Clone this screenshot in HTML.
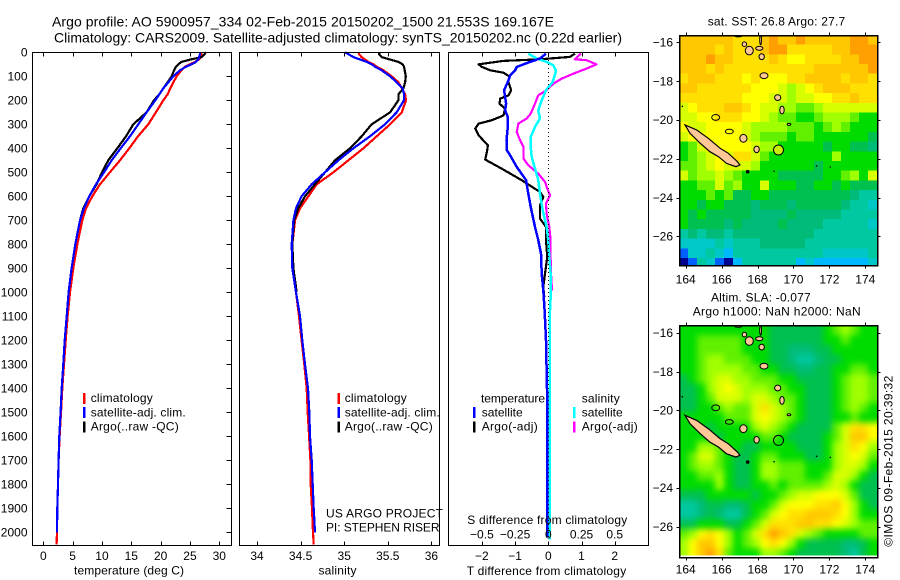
<!DOCTYPE html>
<html lang="en">
<head>
<meta charset="utf-8">
<title>Argo profile 5900957_334</title>
<style>
html,body{margin:0;padding:0;background:#fff;width:900px;height:580px;overflow:hidden}
svg{display:block;font-family:"Liberation Sans",sans-serif;font-size:12px;fill:#000}
</style>
</head>
<body>
<svg id="chart" xmlns="http://www.w3.org/2000/svg" width="900" height="580" viewBox="0 0 900 580">
<defs>
<clipPath id="clip-map-sst"><rect x="679.5" y="35.5" width="198" height="229.5"/></clipPath>
<clipPath id="clip-map-sla"><rect x="679.5" y="325.5" width="198" height="230"/></clipPath>
<filter id="smooth-sla" x="-5%" y="-5%" width="110%" height="110%" color-interpolation-filters="sRGB">
<feGaussianBlur stdDeviation="3.2"/>
<feComponentTransfer><feFuncA type="linear" slope="60"/></feComponentTransfer>
</filter>
</defs>
<text x="52" y="26.5" font-size="14" textLength="502">Argo profile: AO 5900957_334 02-Feb-2015 20150202_1500 21.553S 169.167E</text>
<text x="54" y="42.5" font-size="14" textLength="568">Climatology: CARS2009. Satellite-adjusted climatology: synTS_20150202.nc (0.22d earlier)</text>

<g id="layer-maps"></g>
<g id="layer-curves"></g>
<g id="layer-axes"></g>

<text x="74" y="574.5" textLength="110">temperature (deg C)</text>
<text x="318.5" y="574.5" textLength="38">salinity</text>
<text x="466.7" y="575" textLength="159.5">T difference from climatology</text>
<text x="467.3" y="524" textLength="160">S difference from climatology</text>

<g>
<rect x="83" y="393" width="2.5" height="11" fill="#f00"/>
<text x="90.7" y="402" textLength="62">climatology</text>
<rect x="83" y="407" width="2.5" height="11" fill="#00f"/>
<text x="90.7" y="416.3" textLength="95">satellite-adj. clim.</text>
<rect x="83" y="421.5" width="2.5" height="11" fill="#000"/>
<text x="90.7" y="430.7" textLength="88">Argo(..raw -QC)</text>
</g>
<g>
<rect x="337.5" y="393" width="2.5" height="11" fill="#f00"/>
<text x="344.7" y="402" textLength="62">climatology</text>
<rect x="337.5" y="407" width="2.5" height="11" fill="#00f"/>
<text x="344.7" y="416.3" textLength="95">satellite-adj. clim.</text>
<rect x="337.5" y="421.5" width="2.5" height="11" fill="#000"/>
<text x="344.7" y="430.7" textLength="88">Argo(..raw -QC)</text>
</g>
<text x="326" y="517.3" textLength="117">US ARGO PROJECT</text>
<text x="326" y="531.3" textLength="113.5">PI: STEPHEN RISER</text>

<g>
<text x="481" y="402.3" textLength="64">temperature</text>
<rect x="473" y="407" width="2.5" height="11" fill="#00f"/>
<text x="481.7" y="416.3" textLength="41">satellite</text>
<rect x="473" y="421.5" width="2.5" height="11" fill="#000"/>
<text x="481.7" y="430.7" textLength="56">Argo(-adj)</text>
<text x="581.7" y="402.3" textLength="38">salinity</text>
<rect x="573" y="407" width="2.5" height="11" fill="#0ff"/>
<text x="581.7" y="416.3" textLength="41">satellite</text>
<rect x="573" y="421.5" width="2.5" height="11" fill="#f0f"/>
<text x="581.7" y="430.7" textLength="56">Argo(-adj)</text>
</g>

<text x="707.7" y="25.7" textLength="137.5">sat. SST: 26.8 Argo: 27.7</text>
<text x="711" y="301.7" textLength="99.7">Altim. SLA: -0.077</text>
<text x="692.7" y="315.7" textLength="168">Argo h1000: NaN h2000: NaN</text>
<text transform="translate(892.7,546.7) rotate(-90)" textLength="171">©IMOS 09-Feb-2015 20:39:32</text>
</svg>

<script>
const profileDepths = [0,10,20,30,40,50,60,75,100,125,150,175,200,250,300,350,400,450,500,550,600,650,700,800,900,1000,1100,1200,1300,1400,1500,1600,1700,1800,1900,2000,2050];
const tempClimatology = [26.99,26.93,26.82,26.53,25.85,25.0,24.2,23.52,22.73,22.16,21.65,21.19,20.45,19.2,17.9,16.14,14.66,13.07,11.36,9.66,8.35,7.27,6.65,5.8,5.11,4.55,4.15,3.81,3.52,3.24,3.01,2.78,2.61,2.5,2.39,2.33,2.27];
const tempSatellite = [26.7,26.7,26.53,26.42,26.02,25.28,24.32,23.3,22.16,21.31,20.45,19.77,19.09,17.61,16.19,14.77,13.18,11.65,10.34,8.98,7.84,6.93,6.25,5.45,4.83,4.32,3.98,3.64,3.41,3.13,2.95,2.73,2.61,2.5,2.39,2.33];
const tempArgo = [27.73,27.39,26.99,25.11,23.58,23.01,22.61,22.27,21.88,21.19,20.45,19.77,18.86,17.61,15.34,14.09,12.61,11.08,10.0,9.09,7.84,6.82,6.25,5.45,4.83,4.32];
const salClimatology = [35.163,35.174,35.2,35.239,35.277,35.335,35.373,35.449,35.545,35.621,35.66,35.698,35.709,35.66,35.526,35.373,35.22,35.048,34.876,34.685,34.589,34.493,34.436,34.405,34.405,34.447,34.482,34.512,34.543,34.57,34.581,34.597,34.612,34.616,34.631,34.642,34.65];
const salSatellite = [35.01,35.059,35.105,35.182,35.258,35.315,35.354,35.43,35.526,35.602,35.671,35.686,35.686,35.602,35.468,35.296,35.105,34.933,34.78,34.627,34.512,34.447,34.417,34.398,34.405,34.447,34.493,34.52,34.551,34.585,34.6,34.608,34.627,34.639,34.65,34.665];
const salArgo = [35.403,35.403,35.43,35.526,35.621,35.671,35.686,35.694,35.706,35.698,35.679,35.621,35.621,35.526,35.315,35.201,35.067,34.895,34.78,34.665,34.551,34.474,34.424,34.405,34.417,34.455];

const tDiffSatDepths = [6,26,40,61,75,96,117,158,186,214,242,269,311,367,408,429,478,533,575,644,728,783,839,922,992,1075,1200,1400,1700,2020];
const tDiffSat = [-0.07,-0.25,-0.55,-0.95,-1.0,-1.15,-1.2,-1.33,-1.3,-1.27,-1.3,-1.22,-1.22,-1.26,-1.25,-1.15,-0.95,-0.67,-0.62,-0.53,-0.4,-0.3,-0.22,-0.2,-0.15,-0.11,-0.07,-0.04,-0.03,-0.03];
const tDiffArgoDepths = [6,19,29,36,50,61,75,85,100,124,158,179,193,214,235,263,283,297,318,346,388,415,447,485,533,582,603,638,693,728,783,853,922,978,1019];
const tDiffArgo = [0.8,0.65,-0.25,-1.35,-2.1,-2.0,-1.75,-1.35,-1.18,-1.2,-1.12,-1.2,-1.45,-1.47,-1.3,-1.35,-1.7,-2.1,-2.2,-2.1,-1.82,-1.85,-1.9,-1.4,-0.8,-0.25,-0.15,-0.25,-0.25,-0.07,-0.07,-0.03,-0.1,-0.15,-0.12];
const sDiffSatDepths = [6,26,40,54,75,96,124,158,200,242,276,311,353,394,436,485,533,589,658,728,783,853,922,992,1075,1400,2030];
const sDiffSat = [-0.15,-0.0875,-0.0125,0.0375,0.0575,0.05,0.0325,-0.0175,-0.05,-0.075,-0.0625,-0.1,-0.1325,-0.1325,-0.125,-0.1,-0.075,-0.0625,-0.0425,-0.0125,0,0.0075,0.0175,0.02,0.0125,0.01,0.0125];
const sDiffArgoDepths = [6,29,33,50,68,89,110,131,158,179,214,256,276,297,332,367,394,443,471,506,540,568,596,631,672,728,783,853,922,992];
const sDiffArgo = [0.245,0.2,0.2875,0.3625,0.2875,0.1875,0.1,0.0375,-0.0125,-0.075,-0.1,-0.1325,-0.1625,-0.225,-0.2375,-0.2125,-0.1875,-0.1875,-0.15,-0.075,-0.025,-0.0075,0.0125,-0.0175,-0.0125,0.0075,0.0175,0.0175,0.02,0.0275];

const depthTicks = [0,100,200,300,400,500,600,700,800,900,1000,1100,1200,1300,1400,1500,1600,1700,1800,1900,2000];
const tempTicks = [0,5,10,15,20,25,30];
const salTicks = [34,34.5,35,35.5,36];
const tDiffTicks = [-2,-1,0,1,2];
const sDiffTicks = [-0.5,-0.25,0,0.25,0.5];
const lonTicks = [164,166,168,170,172,174];
const latTicks = [-16,-18,-20,-22,-24,-26];

const sstLevels = [
[13,13,13,13,13,13,12,12,12,13,14,13,13,14,13,13,13,13,13,14,14,13],
[13,13,13,13,12,13,12,12,12,13,14,14,12,12,12,12,12,13,13,14,14,14],
[13,13,13,14,13,13,12,12,12,12,13,12,11,11,12,12,12,12,13,13,14,14],
[13,13,13,12,13,12,12,12,12,12,12,12,12,12,12,13,13,13,13,13,13,14],
[12,13,13,13,12,12,12,11,12,11,11,11,12,12,13,13,13,13,12,13,13,12],
[13,13,12,12,12,12,12,12,11,11,11,10,9,10,11,12,13,13,13,12,12,12],
[12,12,12,12,12,12,12,11,11,11,10,10,9,10,10,11,11,12,12,13,12,12],
[10,11,12,12,12,13,13,12,11,10,10,9,9,8,8,9,10,10,10,10,10,10],
[10,10,11,11,12,12,12,11,11,10,9,8,8,7,7,8,9,9,9,8,7,7],
[11,10,10,11,11,11,11,10,9,9,9,9,8,8,8,7,8,9,8,7,7,7],
[10,11,11,11,11,11,11,10,9,8,8,8,7,8,8,7,7,7,7,7,7,6],
[7,8,10,11,11,11,11,11,10,9,9,7,7,7,7,7,6,7,7,6,6,5],
[7,8,9,10,11,10,12,12,10,8,7,7,7,7,7,7,7,9,7,7,7,7],
[8,8,9,10,11,10,10,10,9,7,7,7,7,7,7,6,7,7,7,7,7,7],
[10,8,9,9,10,9,8,7,7,7,7,6,6,6,6,6,7,7,8,9,7,10],
[7,7,8,8,10,8,9,7,7,10,7,7,7,6,6,7,7,6,7,6,6,6],
[7,7,7,8,7,8,6,6,7,7,6,6,6,6,6,6,6,6,6,5,4,4],
[7,7,6,7,7,6,6,6,5,6,6,6,5,6,6,6,6,6,5,4,4,3],
[7,6,7,6,6,6,6,6,5,5,5,5,6,5,5,5,5,5,4,4,4,4],
[7,6,6,6,6,5,6,5,5,5,5,6,5,5,5,5,4,4,4,4,4,3],
[4,5,4,5,5,4,5,5,5,5,5,5,5,5,5,4,4,4,4,4,4,4],
[3,3,3,3,4,3,4,4,4,5,5,5,5,5,4,4,4,4,4,4,4,4],
[1,3,3,4,3,2,4,4,4,4,4,4,4,4,4,4,3,3,3,3,3,4],
[0,1,4,3,1,0,2,4,4,4,4,4,4,2,3,2,2,2,2,2,2,3]
];
const slaLevels = [
[7,7,7,7,7,7,7,7,7,7,6,6,6,6,6,6,7,8,9,8,7,7],
[7,7,8,8,8,8,8,7,7,7,6,6,6,6,6,6,7,7,8,7,7,7],
[7,7,8,8,8,8,8,7,7,7,6,6,5,5,5,6,6,7,7,7,7,7],
[7,7,8,9,9,8,8,8,7,7,6,6,5,4,4,5,6,6,7,7,7,7],
[7,7,8,9,9,9,9,8,8,7,7,6,6,5,5,6,6,7,7,8,8,7],
[6,7,8,9,10,10,9,9,8,8,8,7,7,6,6,6,6,7,8,9,9,8],
[6,6,7,9,10,11,10,9,9,9,8,8,7,7,6,6,6,7,8,9,9,8],
[6,6,7,8,10,10,10,9,10,10,9,8,8,7,6,6,6,7,8,9,9,8],
[6,6,7,7,8,9,8,8,10,12,10,9,8,7,6,6,6,7,8,9,8,7],
[7,7,7,7,7,8,8,8,10,11,10,9,8,7,6,6,6,7,7,8,7,7],
[7,7,7,6,7,7,7,7,9,10,9,8,7,6,6,6,6,8,10,12,12,11],
[7,7,7,7,6,7,7,7,7,8,8,7,6,6,6,6,7,8,10,13,13,11],
[7,7,9,9,8,7,7,6,6,7,7,7,7,6,6,6,7,9,10,12,11,9],
[7,8,10,10,8,7,6,6,7,8,8,7,7,7,6,6,7,9,10,11,10,8],
[7,8,9,9,8,7,6,6,7,9,9,8,8,8,7,7,7,9,10,10,9,7],
[7,7,8,8,9,7,6,6,7,9,9,8,8,8,7,7,8,10,10,9,7,6],
[7,7,7,7,9,7,6,6,7,7,8,7,8,8,8,8,9,10,9,7,6,6],
[6,6,6,7,7,7,7,7,6,7,7,8,9,10,10,11,11,11,10,8,6,6],
[4,4,5,6,6,5,5,6,7,7,8,10,11,11,11,12,12,13,11,9,7,6],
[4,4,5,6,5,4,4,6,7,8,10,11,12,12,13,13,13,12,11,9,7,7],
[6,6,7,7,7,6,6,7,8,10,12,12,12,13,13,12,12,11,10,9,8,8],
[8,9,11,12,11,9,7,8,10,12,14,13,12,10,9,8,7,7,7,7,8,8],
[9,11,13,13,11,9,7,8,9,11,12,11,9,7,6,6,6,6,5,5,6,7],
[9,11,13,14,12,8,7,7,7,9,9,8,7,6,6,6,6,6,5,4,6,7]
];
const levelColors = ["#000090","#0060ff","#00b8ff","#00c8c8","#00c8a0","#00bc78","#00c050","#00dc00","#60f000","#a0ff00","#d8ff00","#ffff00","#ffe000","#ffc800","#ffa000","#d84000"];

const newCaledoniaLon = [163.96,164.61,165.26,165.91,166.37,166.88,167.02,166.8,166.28,165.82,165.35,164.8,164.24];
const newCaledoniaLat = [-20.26,-20.52,-20.95,-21.46,-21.72,-22.15,-22.32,-22.41,-22.24,-21.89,-21.64,-21.2,-20.69];
const islandLon = [167.27,167.54,168.1,168.23,168.36,169.12,169.36,169.75,167.21,167.95,168.17,166.93];
const islandLat = [-16.1,-16.43,-16.31,-16.74,-17.72,-18.85,-19.49,-20.23,-20.95,-21.52,-15.88,-15.67];
const islandLonRadius = [0.12,0.22,0.2,0.15,0.22,0.17,0.12,0.1,0.2,0.15,0.05,0.2];
const islandLatRadius = [0.12,0.22,0.1,0.15,0.15,0.15,0.2,0.05,0.2,0.17,0.25,0.05];
const atollLon = [165.67,166.43];
const atollLat = [-19.87,-20.6];
const atollLonRadius = [0.22,0.22];
const atollLatRadius = [0.15,0.12];
const reefLon = [167.45,171.29,172.05,168.92,163.81];
const reefLat = [-22.67,-22.37,-22.43,-22.65,-19.3];
const reefRadius = [1.8,0.8,0.8,0.8,0.8];
const argoLon = 169.167;
const argoLat = -21.553;

const NS = "http://www.w3.org/2000/svg";
const layerMaps = document.getElementById("layer-maps");
const layerCurves = document.getElementById("layer-curves");
const layerAxes = document.getElementById("layer-axes");

function yDepth(d){ return 52.3 + d * 0.24; }
function xTemp(v){ return 43.3 + v * 5.867; }
function xSal(v){ return 257 + (v - 34) * 87.2; }
function xTDiff(v){ return 548.3 + v * 33.2; }
function xSDiff(v){ return 548.3 + v * 132.8; }
function xLon(l){ return 685.7 + (l - 164) * 17.96; }
function yLatSst(l){ return 42.3 + (-16 - l) * 19.4; }
function yLatSla(l){ return 332.7 + (-16 - l) * 19.4; }
function fmtMinus(v){ return String(v).replace("-", "\u2212"); }

function svgEl(tag, parent, name){
  const el = document.createElementNS(NS, tag);
  
  
  parent.appendChild(el);
  return el;
}
function line(parent, name, x1, y1, x2, y2){
  const l = svgEl("line", parent, name);
  l.setAttribute("x1", x1); l.setAttribute("y1", y1);
  l.setAttribute("x2", x2); l.setAttribute("y2", y2);
  l.setAttribute("stroke", "#000");
  l.setAttribute("stroke-width", "1");
  l.setAttribute("shape-rendering", "crispEdges");
  return l;
}
function label(parent, name, x, y, str, anchor){
  const t = svgEl("text", parent, name);
  t.setAttribute("x", x); t.setAttribute("y", y);
  t.setAttribute("text-anchor", anchor);
  t.textContent = str;
  return t;
}
function frame(parent, name, x, y, w, h, sw){
  const r = svgEl("rect", parent, name);
  r.setAttribute("x", x); r.setAttribute("y", y);
  r.setAttribute("width", w); r.setAttribute("height", h);
  r.setAttribute("fill", "none");
  r.setAttribute("stroke", "#000");
  r.setAttribute("stroke-width", sw);
  r.setAttribute("shape-rendering", "crispEdges");
  return r;
}
function curve(name, depths, values, xFn, color, width){
  const p = svgEl("polyline", layerCurves, name);
  p.setAttribute("points", values.map((v, i) => xFn(v).toFixed(1) + "," + yDepth(depths[i]).toFixed(1)).join(" "));
  p.setAttribute("fill", "none");
  p.setAttribute("stroke", color);
  p.setAttribute("stroke-width", width);
  p.setAttribute("stroke-linejoin", "round");
  p.setAttribute("shape-rendering", "crispEdges");
}

/* profile panels */
curve("temperature-climatology-line", profileDepths, tempClimatology, xTemp, "#f00", 2.2);
curve("temperature-argo-line", profileDepths, tempArgo, xTemp, "#000", 2.2);
curve("temperature-satellite-line", profileDepths, tempSatellite, xTemp, "#00f", 2.2);
curve("salinity-climatology-line", profileDepths, salClimatology, xSal, "#f00", 2.2);
curve("salinity-argo-line", profileDepths, salArgo, xSal, "#000", 2.2);
curve("salinity-satellite-line", profileDepths, salSatellite, xSal, "#00f", 2.2);
curve("t-difference-argo-line", tDiffArgoDepths, tDiffArgo, xTDiff, "#000", 2.2);
curve("s-difference-argo-line", sDiffArgoDepths, sDiffArgo, xSDiff, "#f0f", 2.2);
curve("s-difference-satellite-line", sDiffSatDepths, sDiffSat, xSDiff, "#0ff", 2.5);
curve("t-difference-satellite-line", tDiffSatDepths, tDiffSat, xTDiff, "#00f", 2.5);

const zero = svgEl("line", layerCurves, "zero-difference-line");
zero.setAttribute("x1", xTDiff(0)); zero.setAttribute("x2", xTDiff(0));
zero.setAttribute("y1", 52); zero.setAttribute("y2", 540);
zero.setAttribute("stroke", "#000");
zero.setAttribute("stroke-width", "1");
zero.setAttribute("stroke-dasharray", "1 3");
zero.setAttribute("shape-rendering", "crispEdges");

/* profile frames and axes */
frame(layerAxes, "temperature-plot-frame", 32.5, 52.5, 199, 493, 1);
frame(layerAxes, "salinity-plot-frame", 239.5, 52.5, 200, 493, 1);
frame(layerAxes, "difference-plot-frame", 448.5, 52.5, 200, 493, 1);

depthTicks.forEach(d => {
  const y = Math.round(yDepth(d)) + 0.5;
  line(layerAxes, "depth-tick", 226.5, y, 231.5, y);
  label(layerAxes, "depth-tick-label", 27.5, yDepth(d) + 4.3, String(d), "end");
});
function xAxis(ticks, xFn, prefix, labelY, top){
  ticks.forEach(v => {
    const x = Math.round(xFn(v)) + 0.5;
    line(layerAxes, prefix + "-tick-bottom", x, 541.5, x, 545.5);
    if (top) line(layerAxes, prefix + "-tick-top", x, 52.5, x, 56.5);
    if (labelY) label(layerAxes, prefix + "-tick-label", xFn(v), labelY, fmtMinus(v), "middle");
  });
}
xAxis(tempTicks, xTemp, "temperature", 560, true);
xAxis(salTicks, xSal, "salinity", 560, true);
xAxis(tDiffTicks, xTDiff, "t-difference", 560, true);
sDiffTicks.forEach(v => {
  label(layerAxes, "s-difference-tick-label", xSDiff(v), 538.3, fmtMinus(v), "middle");
});

/* maps */
function drawMap(prefix, levels, yLat, clipId, top, bottom, lonLabelY, circleFill, smooth){
  const g = svgEl("g", layerMaps, prefix + "-map");
  g.setAttribute("clip-path", "url(#" + clipId + ")");
  const cells = svgEl("g", g, prefix + "-cells");
  if (smooth) cells.setAttribute("filter", "url(#smooth-sla)");
  const lonStart = 163.64, latStart = -15.62, step = 0.5;
  levels.forEach((row, r) => {
    row.forEach((level, c) => {
      const cell = svgEl("rect", cells, prefix + "-cell");
      const x0 = xLon(lonStart + c * step), x1 = xLon(lonStart + (c + 1) * step);
      const y0 = yLat(latStart - r * step), y1 = yLat(latStart - (r + 1) * step);
      cell.setAttribute("x", x0.toFixed(1));
      cell.setAttribute("y", y0.toFixed(1));
      cell.setAttribute("width", (x1 - x0 + 0.6).toFixed(1));
      cell.setAttribute("height", (y1 - y0 + 0.6).toFixed(1));
      cell.setAttribute("fill", levelColors[level]);
      cell.setAttribute("shape-rendering", "crispEdges");
    });
  });
  const nc = svgEl("polygon", g, "new-caledonia-landmass");
  nc.setAttribute("points", newCaledoniaLon.map((l, i) => xLon(l).toFixed(1) + "," + yLat(newCaledoniaLat[i]).toFixed(1)).join(" "));
  nc.setAttribute("fill", "#ffc896");
  nc.setAttribute("stroke", "#000");
  nc.setAttribute("stroke-width", "1.2");
  islandLon.forEach((l, i) => {
    const e = svgEl("ellipse", g, "island");
    e.setAttribute("cx", xLon(l).toFixed(1));
    e.setAttribute("cy", yLat(islandLat[i]).toFixed(1));
    e.setAttribute("rx", (islandLonRadius[i] * 17.96).toFixed(1));
    e.setAttribute("ry", (islandLatRadius[i] * 19.4).toFixed(1));
    e.setAttribute("fill", "#ffc896");
    e.setAttribute("stroke", "#000");
    e.setAttribute("stroke-width", "1");
  });
  atollLon.forEach((l, i) => {
    const e = svgEl("ellipse", g, "atoll");
    e.setAttribute("cx", xLon(l).toFixed(1));
    e.setAttribute("cy", yLat(atollLat[i]).toFixed(1));
    e.setAttribute("rx", (atollLonRadius[i] * 17.96).toFixed(1));
    e.setAttribute("ry", (atollLatRadius[i] * 19.4).toFixed(1));
    e.setAttribute("fill", "none");
    e.setAttribute("stroke", "#000");
    e.setAttribute("stroke-width", "1");
  });
  reefLon.forEach((l, i) => {
    const d = svgEl("circle", g, "reef-dot");
    d.setAttribute("cx", xLon(l).toFixed(1));
    d.setAttribute("cy", yLat(reefLat[i]).toFixed(1));
    d.setAttribute("r", reefRadius[i]);
    d.setAttribute("fill", "#000");
  });
  const mark = svgEl("circle", g, "argo-float-marker");
  mark.setAttribute("cx", xLon(argoLon).toFixed(1));
  mark.setAttribute("cy", yLat(argoLat).toFixed(1));
  mark.setAttribute("r", "5");
  mark.setAttribute("fill", circleFill);
  mark.setAttribute("stroke", "#000");
  mark.setAttribute("stroke-width", "1");

  frame(layerAxes, prefix + "-map-frame", 679.5, top, 198, bottom - top, 1.5);
  lonTicks.forEach(l => {
    const x = Math.round(xLon(l)) + 0.5;
    line(layerAxes, prefix + "-lon-tick-top", x, top - 3, x, top);
    line(layerAxes, prefix + "-lon-tick-bottom", x, bottom, x, bottom + 3);
    label(layerAxes, prefix + "-lon-label", xLon(l), lonLabelY, String(l), "middle");
  });
  latTicks.forEach(l => {
    const y = Math.round(yLat(l)) + 0.5;
    line(layerAxes, prefix + "-lat-tick-left", 676.5, y, 679.5, y);
    line(layerAxes, prefix + "-lat-tick-right", 877.5, y, 880.5, y);
    label(layerAxes, prefix + "-lat-label", 673, yLat(l) + 4.3, fmtMinus(l), "end");
  });
}
drawMap("sst", sstLevels, yLatSst, "clip-map-sst", 35.5, 265.5, 283.3, "#c8f000", false);
drawMap("sla", slaLevels, yLatSla, "clip-map-sla", 325.5, 557.5, 573.3, "none", true);
</script>
</body>
</html>
